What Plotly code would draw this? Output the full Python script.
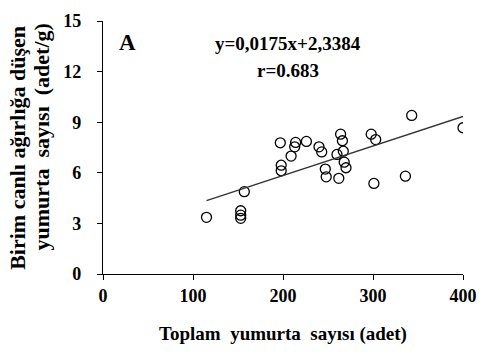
import plotly.graph_objects as go

toplam = [115, 153, 153, 153, 157, 197, 198, 198, 209, 213, 214, 226, 240, 243, 247, 248,
          260, 262, 264, 266, 267, 268, 270, 298, 303, 301, 336, 343, 400]
birim = [3.36, 3.75, 3.49, 3.30, 4.88, 7.78, 6.45, 6.12, 6.99, 7.54, 7.80, 7.86, 7.54, 7.24,
         6.22, 5.76, 7.09, 5.67, 8.29, 7.90, 7.28, 6.63, 6.30, 8.29, 7.97, 5.37, 5.80, 9.40, 8.67]
slope = 0.0175
intercept = 2.3384
x_ticks = [0, 100, 200, 300, 400]
y_ticks = [0, 3, 6, 9, 12, 15]

FONT = "Liberation Serif, Times New Roman, serif"

xf = [min(toplam), max(toplam)]
yf = [slope * v + intercept for v in xf]

fig = go.Figure()
fig.add_trace(go.Scatter(x=toplam, y=birim, mode="markers",
                         marker=dict(symbol="circle-open", size=10, color="black",
                                     line=dict(width=1.3, color="black")),
                         showlegend=False))
fig.add_trace(go.Scatter(x=xf, y=yf, mode="lines", line=dict(color="#333", width=1.3),
                         showlegend=False))

axis_common = dict(showline=True, linecolor="black", linewidth=1.3, ticks="outside",
                   ticklen=5, tickwidth=1.3, tickcolor="black", showgrid=False, zeroline=False,
                   ticklabeloverflow="allow", automargin=False,
                   tickfont=dict(family=FONT, size=18, color="black"))
fig.update_xaxes(range=[0, 400], tickvals=x_ticks, ticktext=[f"<b>{v}</b>" for v in x_ticks],
                 **axis_common,
                 title=dict(text="<b>Toplam  yumurta  sayısı (adet)</b>",
                            font=dict(family=FONT, size=19, color="black"), standoff=21))
fig.update_yaxes(range=[0, 15], tickvals=y_ticks, ticktext=[f"<b>{v}</b>" for v in y_ticks],
                 ticklabelstandoff=12, **axis_common)

fig.add_annotation(text="<b>Birim canlı ağırlığa düşen</b>", xref="paper", yref="paper",
                   x=-0.238, y=0.5, textangle=-90, showarrow=False, xanchor="center", yanchor="middle",
                   font=dict(family=FONT, size=22, color="black"))
fig.add_annotation(text="<b>yumurta  sayısı  (adet/g)</b>", xref="paper", yref="paper",
                   x=-0.172, y=0.54, textangle=-90, showarrow=False, xanchor="center", yanchor="middle",
                   font=dict(family=FONT, size=22, color="black"))
fig.add_annotation(text="<b>A</b>", x=27, y=13.7, showarrow=False,
                   font=dict(family=FONT, size=23, color="black"))
fig.add_annotation(text="<b>y=0,0175x+2,3384</b>", x=206, y=13.68, showarrow=False,
                   font=dict(family=FONT, size=19, color="black"))
fig.add_annotation(text="<b>r=0.683</b>", x=206, y=12.08, showarrow=False,
                   font=dict(family=FONT, size=19, color="black"))

fig.update_layout(width=479, height=359, plot_bgcolor="white", paper_bgcolor="white",
                  margin=dict(l=103, r=16, t=21, b=85))
fig.write_html("out.html", config={"displayModeBar": False},
               post_script="document.body.style.margin='0';document.body.style.overflow='hidden';")
